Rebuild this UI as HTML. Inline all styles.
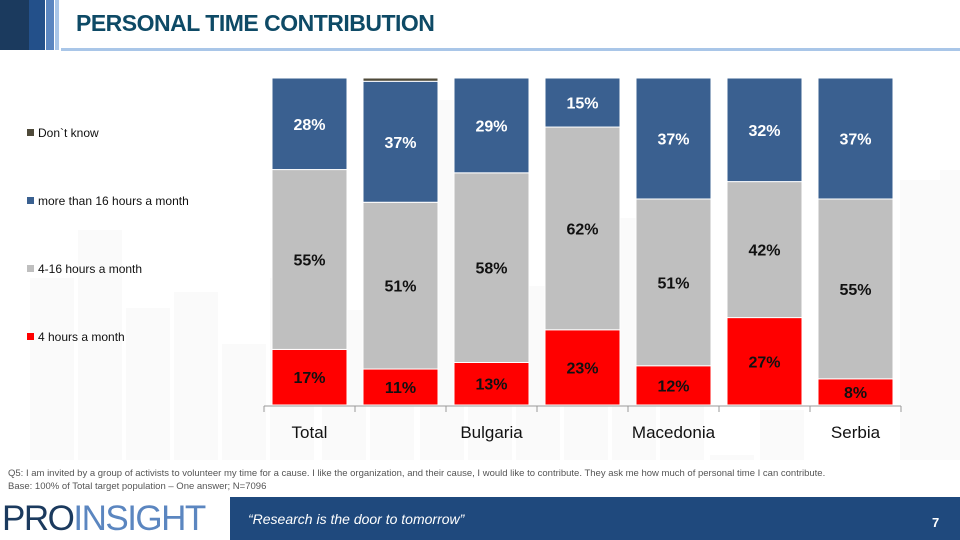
<!DOCTYPE html>
<html><head><meta charset="utf-8"><style>
body{margin:0;width:960px;height:540px;overflow:hidden;background:#fff;font-family:"Liberation Sans",sans-serif;position:relative}
.a{position:absolute}
</style></head><body>
<div class="a" style="left:0;top:0;width:29px;height:50px;background:#1b3a5e"></div>
<div class="a" style="left:29px;top:0;width:16px;height:50px;background:#23508a"></div>
<div class="a" style="left:46px;top:0;width:8px;height:50px;background:#5b86c0"></div>
<div class="a" style="left:55px;top:0;width:4px;height:50px;background:#a9c6e8"></div>
<div class="a" style="left:61px;top:48px;width:899px;height:3px;background:#a9c6e8"></div>
<div class="a" style="left:76px;top:10px;font-size:23px;font-weight:bold;color:#0e4a66;letter-spacing:-0.5px">PERSONAL TIME CONTRIBUTION</div>

<svg class="a" style="left:0;top:0" width="960" height="540">
<g id="bg"></g>
<g id="bars"></g>
<g id="axis"></g>
<g id="legend"></g>
</svg>

<div class="a" style="left:8px;top:468px;font-size:9.5px;color:#555;white-space:nowrap">Q5: I am invited by a group of activists to volunteer my time for a cause. I like the organization, and their cause, I would like to contribute. They ask me how much of personal time I can contribute.</div>
<div class="a" style="left:8px;top:481px;font-size:9.5px;color:#555;white-space:nowrap">Base: 100% of Total target population – One answer; N=7096</div>
<div class="a" style="left:230px;top:497px;width:730px;height:43px;background:#1f497d"></div>
<div class="a" style="left:2px;top:499px;font-size:35px;letter-spacing:-1.5px;line-height:40px;white-space:nowrap"><span style="color:#1b3a5e">PRO</span><span style="color:#5b86c0">INSIGHT</span></div>
<div class="a" style="left:248px;top:511px;font-size:14px;font-style:italic;color:#fff">“Research is the door to tomorrow”</div>
<div class="a" style="left:932px;top:515px;font-size:13px;font-weight:bold;color:#fff">7</div>

<script>
const categories=["Total","","Bulgaria","","Macedonia","","Serbia"];
const red=[17,11,13,23,12,27,8];
const gray=[55,51,58,62,51,42,55];
const blue=[28,37,29,15,37,32,37];
const dk=[0,1,0,0,0,0,0];
const seriesNames=["Don`t know","more than 16 hours a month","4-16 hours a month","4 hours a month"];
const NS="http://www.w3.org/2000/svg";
const top0=78,bot=405,x0=264,step=91,bw=75;
function mk(t,a,p){const e=document.createElementNS(NS,t);for(const k in a)e.setAttribute(k,a[k]);p.appendChild(e);return e;}
const bg=document.getElementById('bg');
const skyline=[[30,178],[78,130],[126,208],[174,192],[222,244],[270,178],[322,210],[370,115],[420,0],[468,208],[516,186],[564,192],[612,118],[660,244],[710,355],[760,310],[900,80],[940,70]];
skyline.forEach(s=>{const r=mk('rect',{x:s[0],y:s[1]+100,width:44,height:460-s[1]-100,fill:'#fafafa'},bg);

});
const bars=document.getElementById('bars');
categories.forEach((c,i)=>{
 const bx=x0+8+i*step;
 const tot=red[i]+gray[i]+blue[i]+dk[i];
 const y=v=>bot-(v/tot)*(bot-top0);
 const h=v=>(v/tot)*(bot-top0);
 let acc=0;
 const segs=[[red[i],'#ff0000','#111','red'],[gray[i],'#bfbfbf','#111','gray'],[blue[i],'#3a6090','#fff','blue'],[dk[i],'#4f4a3a','#fff','dontknow']];
 segs.forEach(s=>{
  if(s[0]<=0){acc+=s[0];return;}
  const r=mk('rect',{x:bx,y:y(acc+s[0]),width:bw,height:h(s[0]),fill:s[1],stroke:'#fff','stroke-width':1},bars);
  
  
  if(s[3]!=='dontknow'){
   const t=mk('text',{x:bx+bw/2,y:y(acc+s[0]/2)+6,'text-anchor':'middle','font-size':16,'font-weight':'bold',fill:s[2],'font-family':'Liberation Sans, sans-serif'},bars);
   t.textContent=s[0]+'%';
   
   
  }
  acc+=s[0];
 });
 if(c){const t=mk('text',{x:bx+bw/2,y:438,'text-anchor':'middle','font-size':17,fill:'#111','font-family':'Liberation Sans, sans-serif'},bars);
 t.textContent=c;
 
 }
});
const ax=document.getElementById('axis');
const al=mk('line',{x1:x0,x2:x0+step*7,y1:bot+1,y2:bot+1,stroke:'#999'},ax);


for(let i=0;i<=7;i++){const tk=mk('line',{x1:x0+i*step,x2:x0+i*step,y1:bot+1,y2:bot+7,stroke:'#999'},ax);

}
const lg=document.getElementById('legend');
const lc=['#4f4a3a','#3a6090','#bfbfbf','#ff0000'];
seriesNames.forEach((n,i)=>{const yy=134+i*68;
 const r=mk('rect',{x:27,y:yy-5,width:7,height:7,fill:lc[i]},lg);
 
 
 const t=mk('text',{x:38,y:yy+3,'font-size':12,fill:'#111','font-family':'Liberation Sans, sans-serif'},lg);
 t.textContent=n;
 
 });
</script>
</body></html>
